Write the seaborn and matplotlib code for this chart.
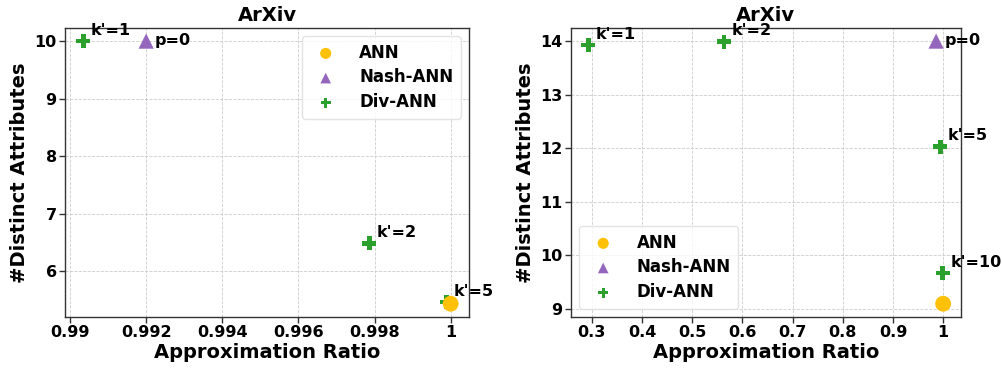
import matplotlib
matplotlib.use("Agg")
import matplotlib.pyplot as plt
import seaborn as sns
from matplotlib.ticker import FuncFormatter

sns.set_style("whitegrid")
plt.rcParams['font.family'] = ['DejaVu Sans']
plt.rcParams['font.weight'] = 'bold'
plt.rcParams['text.color'] = 'black'
plt.rcParams['axes.labelcolor'] = 'black'
plt.rcParams['xtick.color'] = 'black'
plt.rcParams['ytick.color'] = 'black'

# ---- Data: left panel ----
left_ann_x = [1.0]
left_ann_y = [5.44]
left_nash_x = [0.992]
left_nash_y = [10.0]
left_nash_lab = ["p=0"]
left_div_x = [0.99035, 0.99786, 0.99989]
left_div_y = [10.0, 6.49, 5.47]
left_div_lab = ["k'=1", "k'=2", "k'=5"]
left_xticks = [0.99, 0.992, 0.994, 0.996, 0.998, 1.0]
left_yticks = [6, 7, 8, 9, 10]

# ---- Data: right panel ----
right_ann_x = [1.0]
right_ann_y = [9.1]
right_nash_x = [0.986]
right_nash_y = [14.0]
right_nash_lab = ["p=0"]
right_div_x = [0.2934, 0.5635, 0.9946, 0.9993]
right_div_y = [13.93, 13.99, 12.03, 9.67]
right_div_lab = ["k'=1", "k'=2", "k'=5", "k'=10"]
right_xticks = [0.3, 0.4, 0.5, 0.6, 0.7, 0.8, 0.9, 1.0]
right_yticks = [9, 10, 11, 12, 13, 14]

C_ANN = "#FFC107"
C_NASH = "#9467BD"
C_DIV = "#2CA02C"

fig = plt.figure(figsize=(10.03, 3.68), dpi=100)
ax1 = fig.add_axes([0.0648, 0.139, 0.4028, 0.785])
ax2 = fig.add_axes([0.569, 0.139, 0.389, 0.785])


def panel(ax, ax_x, ax_y, nx, ny, nlab, dx, dy, dlab, xt, yt, legloc):
    sns.scatterplot(x=ax_x, y=ax_y, ax=ax, color=C_ANN, marker='o', s=130,
                    edgecolor='none', label='ANN', zorder=4)
    sns.scatterplot(x=nx, y=ny, ax=ax, color=C_NASH, marker='^', s=120,
                    edgecolor='none', label='Nash-ANN', zorder=3)
    sns.scatterplot(x=dx, y=dy, ax=ax, color=C_DIV, marker='P', s=100,
                    edgecolor='none', label='Div-ANN', zorder=3)
    for x, y, t in zip(nx, ny, nlab):
        ax.annotate(t, (x, y), xytext=(6, -2.8), textcoords='offset points',
                    fontsize=11.5, fontweight='bold', va='baseline', ha='left')
    for x, y, t in zip(dx, dy, dlab):
        ax.annotate(t, (x, y), xytext=(5.5, 4.5), textcoords='offset points',
                    fontsize=11.5, fontweight='bold', va='baseline', ha='left')
    ax.set_xticks(xt)
    ax.set_yticks(yt)
    ax.xaxis.set_major_formatter(FuncFormatter(lambda v, p: f"{v:g}"))
    ax.tick_params(axis='both', labelsize=11.5, length=4, width=1, color='#333333',
                   bottom=True, left=True, pad=2)
    for lab in ax.get_xticklabels() + ax.get_yticklabels():
        lab.set_fontweight('bold')
    ax.set_xlabel("Approximation Ratio", fontsize=14, fontweight='bold', labelpad=2)
    ax.set_ylabel("#Distinct Attributes", fontsize=14, fontweight='bold', labelpad=4)
    ax.set_title("ArXiv", fontsize=14, fontweight='bold', pad=5)
    ax.grid(True, linestyle='--', linewidth=0.6, color='#cccccc')
    for s in ax.spines.values():
        s.set_visible(True)
        s.set_color('#333333')
        s.set_linewidth(1.0)
    leg = ax.legend(loc=legloc, prop={'weight': 'bold', 'size': 12},
                    markerscale=0.7, handletextpad=1.0, borderpad=0.45,
                    labelspacing=0.4, frameon=True)
    leg.get_frame().set_edgecolor('#dddddd')
    for t in leg.get_texts():
        t.set_color('black')


panel(ax1, left_ann_x, left_ann_y, left_nash_x, left_nash_y, left_nash_lab,
      left_div_x, left_div_y, left_div_lab, left_xticks, left_yticks, 'upper right')
panel(ax2, right_ann_x, right_ann_y, right_nash_x, right_nash_y, right_nash_lab,
      right_div_x, right_div_y, right_div_lab, right_xticks, right_yticks, 'lower left')

fig.savefig("out.png", dpi=100)
